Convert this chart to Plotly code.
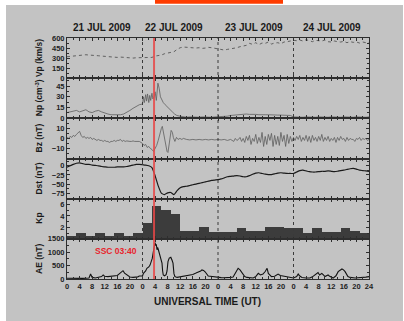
import plotly.graph_objects as go

# ---------------- data ----------------
DAY_LABELS = ["21 JUL 2009", "22 JUL 2009", "23 JUL 2009", "24 JUL 2009"]
DAY_LABEL_X = [11.1, 34.0, 59.3, 84.1]
DAY_BOUNDS = [24, 48, 72]
SSC_TIME = 27.667
SSC_TEXT = "SSC 03:40"

HOURS = list(range(97))

VP = [320, 325, 330, 335, 345, 350, 350, 345, 345, 340, 335, 330, 325, 315, 310, 305, 310, 315, 310, 305, 300, 300, 305, 305,
      305, 300, 305, 310, 330, 335, 345, 365, 375, 380, 395, 430, 455, 465, 460, 455, 460, 450, 455, 445, 450, 460, 455, 445,
      440, 425, 420, 430, 435, 445, 455, 470, 480, 490, 520, 505, 530, 500, 525, 520, 540, 510, 525, 530, 515, 540, 545, 560,
      565, 560, 570, 555, 575, 560, 545, 565, 560, 555, 570, 545, 540, 555, 545, 540, 550, 530, 545, 535, 540, 525, 540, 530,
      535]

NP_T = [0, 1, 2, 3, 4, 5, 6, 7, 8, 9, 10, 11, 12, 13, 14, 15, 16, 17, 18, 19, 20, 21, 22, 23,
        24, 24.3, 24.6, 25, 25.3, 25.6, 26, 26.3, 26.6, 27, 27.3, 27.7, 28, 28.4, 28.9, 29.3, 29.7, 30.1, 30.6,
        31.2, 32, 32.7, 33.5, 34.2, 34.9, 35.9, 37, 38, 39, 40, 41, 42, 43, 44, 45, 46, 47,
        48, 49, 50, 51, 52, 53, 54, 55, 56, 57, 58, 59, 60, 61, 62, 63, 64, 65, 66, 67, 68, 69, 70, 71,
        72, 73, 74, 75, 76, 77, 78, 79, 80, 81, 82, 83, 84, 85, 86, 87, 88, 89, 90, 91, 92, 93, 94, 95, 96]
NP_V = [8, 9, 10, 11, 9, 10, 12, 9, 8, 10, 11, 9, 7, 6, 5, 5, 4, 5, 6, 8, 11, 14, 17, 19,
        20, 30, 22, 33, 24, 34, 22, 32, 25, 35, 27, 30, 37, 25, 49, 42, 30, 26, 22,
        19, 15, 12, 9, 6, 4, 3, 2, 1.5, 2, 1.5, 2, 1.5, 2, 1.5, 2, 1.5, 2,
        2, 2, 2.5, 3, 4, 4.5, 5, 5, 5.5, 6, 5.5, 6, 5.5, 5, 5.5, 5, 5, 4.5, 5, 4.5, 4.5, 4, 4, 4,
        2, 1.5, 2, 1.5, 2, 1.5, 2, 1.5, 2, 1.5, 2, 1.5, 2, 1.5, 2, 1.5, 2, 1.5, 2, 1.5, 2, 1.5, 2, 1.5, 2]

BZ_T = [0, 0.5, 1, 1.5, 2, 2.5, 3, 3.5, 4, 4.5, 5, 5.5, 6, 6.5, 7, 7.5, 8, 8.5, 9, 9.5, 10, 10.5, 11, 11.5,
        12, 12.5, 13, 13.5, 14, 14.5, 15, 15.5, 16, 16.5, 17, 17.5, 18, 18.5, 19, 19.5, 20, 20.5, 21, 21.5,
        22, 22.5, 23, 23.5,
        24, 24.5, 25, 25.5, 26, 26.5, 27, 27.5, 28, 28.5, 29, 29.5, 30, 30.3, 30.7, 31, 31.4, 31.8, 32.1,
        32.5, 32.8, 33.1, 33.5, 33.8, 34.3, 34.8, 35.3, 35.9, 36.5, 37, 38, 39, 40, 41, 42, 43, 44, 45, 46, 47,
        48, 49, 50, 51, 52, 53, 53.5, 54, 54.5, 55, 55.5, 56, 56.5, 57, 57.5, 58, 58.5, 59, 59.5, 60, 60.5,
        61, 61.5, 62, 62.5, 63, 63.5, 64, 64.5, 65, 65.5, 66, 66.5, 67, 67.5, 68, 68.5, 69, 69.5, 70, 70.5,
        71, 71.5,
        72, 72.5, 73, 73.5, 74, 74.5, 75, 75.5, 76, 76.5, 77, 77.5, 78, 78.5, 79, 79.5, 80, 80.5, 81, 81.5,
        82, 82.5, 83, 83.5, 84, 84.5, 85, 85.5, 86, 86.5, 87, 87.5, 88, 88.5, 89, 89.5, 90, 90.5, 91, 91.5,
        92, 92.5, 93, 93.5, 94, 94.5, 95, 95.5, 96]
BZ_V = [1, 0, 2, 1, 3, 2, 4, 6, 7, 3, 1, 2, 0, 1, 0, 1, -1, 0, -1, -2, -1, -2, -2, -3,
        -2, -3, -3, -4, -3, -3, -2, -3, -2, -2, -1, -3, -2, -3, -2.5, -3, -3, -3, -2.5, -3,
        -3, -3.5, -3, -4,
        -5, -7, -6, -9, -8, -10, -11, -13, -10, -7, -2, 5, 10, 12, 6, 0, -8, -13, -14,
        -5, 5, 8, 6, 1, -3, 1, -1, 0, -1, 0, -1, -1.5, -1, -1.5, -1, -1.5, -1, -1.5, -1, -1.5,
        -1, -1.5, -1, -2, -1, -3, 0, -2, -1, 1, -3, 0, -4, 2, -2, 3, -6, 0, -3, 4, -5,
        1, -4, 6, -8, 2, -6, 4, -2, 5, -8, 3, -6, 2, -7, 6, -3, 3, -8, 4, -5,
        2, -3,
        1, -2, 2, -1, 3, -3, 1, -2, 3, -3, 2, -4, 3, -2, 1, -3, 2, -2, 4, -3,
        1, -2, 2, -3, 0, -2, 1, -4, 1, -2, 2, -1, 0, -3, 1, -2, 0, -1, -1, -3,
        0, -1, 1, -2, 0, -1, 0, -2, -1]

DST = [-4, 0, 4, 7, 8, 6, 4, 4, 2, 1, 0, -2, -3, -4, -4, -4, -3, -3, -3, -2, 0, 2, 4, 4,
       3, 2, 0, -5, -27, -55, -75, -79, -74, -73, -79, -68, -60, -57, -56, -54, -52, -50, -48, -46, -44, -42, -40, -39,
       -38, -36, -33, -30, -29, -28, -27, -28, -30, -30, -27, -23, -20, -19, -21, -23, -24, -24, -22, -20, -19, -20, -21, -21,
       -21, -17, -13, -12, -14, -16, -17, -17, -16, -15, -15, -14, -15, -16, -15, -13, -12, -10, -8, -7, -9, -12, -13, -14,
       -15]

KP_START = [0, 3, 6, 9, 12, 15, 18, 21, 24, 27, 30, 33, 36, 39, 42, 45,
            48, 51, 54, 57, 60, 63, 66, 69, 72, 75, 78, 81, 84, 87, 90, 93]
KP = [0.6, 1.0, 0.6, 1.0, 0.6, 1.0, 0.6, 1.0, 2.9, 5.7, 5.0, 4.3, 1.5, 1.5, 2.2, 1.3,
      1.3, 1.3, 1.9, 1.5, 1.5, 2.2, 2.2, 1.9, 1.9, 1.0, 1.9, 1.3, 1.3, 1.9, 1.5, 1.0]

AE_T = [0, 1, 2, 3, 4, 5, 6, 7, 7.5, 8, 9, 10, 11, 11.5, 12, 13, 14, 15, 16, 16.5, 17.2, 17.8, 18.3, 19, 20, 21, 22,
        22.5, 23, 23.5,
        24, 24.3, 25, 25.4, 26, 26.4, 26.8, 27.1, 27.5, 27.7, 28, 28.2, 28.4, 28.6, 28.8, 29, 29.3, 29.6, 30, 30.2,
        30.4, 30.6, 31, 31.5, 31.8, 32.1, 32.5, 33, 33.4, 33.7, 34, 34.3, 35, 36, 37, 38, 39, 40, 41, 41.5, 42,
        42.5, 42.9, 43.4, 43.9, 44.5, 44.9, 45.5, 46, 47, 48,
        49, 50, 50.9, 52, 52.8, 53.5, 54, 54.4, 55, 55.5, 56, 56.5, 57.2, 58, 59.2, 60, 60.8, 61.5, 62.3, 63, 63.6,
        64, 64.5, 65, 66, 66.5, 67.1, 67.8, 68.7, 69.5, 70.9, 71.5,
        72, 73, 73.5, 74, 74.7, 76, 77.2, 78, 78.8, 79.3, 79.8, 80.3, 81, 81.5, 82, 83, 83.5, 84.6, 85.5, 86.2,
        86.8, 87.4, 87.9, 88.4, 89.3, 90, 91.6, 92.5, 93.5, 94.2, 95, 96]
AE_V = [30, 25, 35, 20, 30, 25, 30, 40, 185, 60, 40, 60, 90, 150, 100, 90, 110, 120, 130, 180, 240, 310, 220, 150, 75,
        60, 55, 80, 110, 100,
        110, 210, 300, 400, 450, 520, 650, 770, 1050, 1210, 1360, 1250, 1300, 1090, 1180, 1110, 1000, 900, 700, 590,
        300, 150, 120, 160, 300, 650, 780, 810, 700, 590, 200, 90, 60, 80, 90, 110, 130, 170, 220, 240, 280,
        300, 340, 320, 270, 180, 110, 100, 90, 80, 65,
        50, 45, 40, 60, 75, 200, 330, 400, 340, 250, 150, 90, 60, 50, 40, 90, 210, 150, 185, 280, 400,
        210, 150, 90, 100, 140, 185, 130, 110, 90, 75, 60,
        40, 90, 185, 110, 55, 40, 35, 80, 150, 200, 240, 150, 210, 150, 90, 150, 100, 35, 120, 275,
        330, 375, 340, 275, 90, 60, 35, 40, 60, 65, 70, 90]

HOUR_TICKS = list(range(0, 97, 4))
HOUR_TICKTEXT = ["0", "4", "8", "12", "16", "20"] * 4 + ["24"]

PANELS = [
    dict(title="<b>Vp (km/s)</b>", range=[0, 600], ticks=[0, 150, 300, 450, 600], minor=75),
    dict(title="<b>Np (cm<sup>-3</sup>)</b>", range=[0, 56], ticks=[0, 15, 30, 45], minor=7.5),
    dict(title="<b>Bz (nT)</b>", range=[-20, 20], ticks=[-10, 0, 10], minor=5),
    dict(title="<b>Dst (nT)</b>", range=[-90, 20], ticks=[-75, -50, -25, 0], minor=12.5),
    dict(title="<b>Kp</b>", range=[0, 7], ticks=[2, 4, 6], minor=1),
    dict(title="<b>AE (nT)</b>", range=[0, 1500], ticks=[0, 500, 1000, 1500], minor=250),
]

# ---------------- figure ----------------
W, H = 404, 321
ML, MR, MT, MB = 67, 35, 38, 42
FONT = "Liberation Sans, Arial, sans-serif"
BG = "#c3c3c3"
AX = "#2e2e2e"

fig = go.Figure()

fig.add_trace(go.Scatter(x=HOURS, y=VP, mode="lines", line=dict(color="#555555", width=0.9, dash="dot"),
                         xaxis="x", yaxis="y"))
fig.add_trace(go.Scatter(x=NP_T, y=NP_V, mode="lines", line=dict(color="#5e5e5e", width=0.8),
                         xaxis="x2", yaxis="y2"))
fig.add_trace(go.Scatter(x=BZ_T, y=BZ_V, mode="lines", line=dict(color="#5e5e5e", width=0.8),
                         xaxis="x3", yaxis="y3"))
fig.add_trace(go.Scatter(x=HOURS, y=DST, mode="lines", line=dict(color="#1a1a1a", width=1.2, shape="spline", smoothing=0.4),
                         xaxis="x4", yaxis="y4"))
fig.add_trace(go.Bar(x=[s + 1.5 for s in KP_START], y=KP, width=3, marker=dict(color="#3c3c3c", line=dict(width=0)),
                     xaxis="x5", yaxis="y5"))
fig.add_trace(go.Scatter(x=AE_T, y=AE_V, mode="lines", line=dict(color="#111111", width=1.1),
                         xaxis="x6", yaxis="y6"))

n = len(PANELS)
layout = dict(
    width=W, height=H,
    margin=dict(l=ML, r=MR, t=MT, b=MB, pad=0),
    paper_bgcolor="white", plot_bgcolor=BG,
    showlegend=False, bargap=0,
    font=dict(family=FONT, color="#222222"),
)
tickfont = dict(family=FONT, size=7.5, color="#222222", weight="bold")
for i, p in enumerate(PANELS):
    k = "" if i == 0 else str(i + 1)
    top = 1 - i / n
    bot = 1 - (i + 1) / n
    layout["xaxis" + k] = dict(
        domain=[0, 1], anchor="y" + k, range=[0, 96],
        tickmode="array", tickvals=HOUR_TICKS, ticktext=HOUR_TICKTEXT,
        showticklabels=(i == n - 1), ticks="inside", ticklen=3, tickwidth=0.8, tickcolor=AX,
        minor=dict(dtick=2, tick0=0, ticks="inside", ticklen=2, tickwidth=0.6, tickcolor=AX, showgrid=False),
        showline=True, linecolor=AX, linewidth=1, mirror="ticks",
        showgrid=False, zeroline=False, tickfont=tickfont,
        **({} if i == 0 else {"matches": "x"}),
    )
    layout["yaxis" + k] = dict(
        domain=[bot, top], anchor="x" + k, range=p["range"],
        tickmode="array", tickvals=p["ticks"],
        ticks="inside", ticklen=3, tickwidth=0.8, tickcolor=AX,
        minor=dict(dtick=p["minor"], ticks="inside", ticklen=2, tickwidth=0.6, tickcolor=AX, showgrid=False),
        showline=True, linecolor=AX, linewidth=1, mirror="ticks",
        showgrid=False, zeroline=False, tickfont=tickfont,
    )
fig.update_layout(**layout)

pw = W - ML - MR
ph = H - MT - MB


def px_x(px):
    return (px - ML) / pw


def px_y(py):
    return (H - MB - py) / ph


shapes = []
# gray page background with white strip on top/left
shapes.append(dict(type="rect", xref="paper", yref="paper", x0=px_x(6), x1=px_x(403), y0=px_y(321), y1=px_y(5),
                   fillcolor=BG, line=dict(width=0), layer="below"))
# orange header bar
shapes.append(dict(type="rect", xref="paper", yref="paper", x0=px_x(155), x1=px_x(283), y0=px_y(3.8), y1=px_y(0),
                   fillcolor="#ff3c00", line=dict(width=0), layer="below"))
# day separators
for d in DAY_BOUNDS:
    shapes.append(dict(type="line", xref="x", yref="paper", x0=d, x1=d, y0=0, y1=1,
                       line=dict(color="#3a3a3a", width=1, dash="dot"), layer="above"))
# SSC line
shapes.append(dict(type="line", xref="x", yref="paper", x0=SSC_TIME, x1=SSC_TIME, y0=0, y1=1,
                   line=dict(color="rgba(232,70,70,0.85)", width=2), layer="above"))
fig.update_layout(shapes=shapes)

ann = []
for lbl, xx in zip(DAY_LABELS, DAY_LABEL_X):
    ann.append(dict(text="<b>" + lbl + "</b>", x=xx, xref="x", y=px_y(27.5), yref="paper",
                    showarrow=False, xanchor="center", yanchor="middle",
                    font=dict(family=FONT, size=10, color="#1a1a1a")))
for i, p in enumerate(PANELS):
    yc = 1 - (i + 0.5) / n
    ann.append(dict(text=p["title"], x=px_x(39), xref="paper", y=yc, yref="paper", textangle=-90,
                    showarrow=False, xanchor="center", yanchor="middle",
                    font=dict(family=FONT, size=8.5, color="#1a1a1a")))
ann.append(dict(text="<b>UNIVERSAL TIME (UT)</b>", x=px_x(207), xref="paper", y=px_y(301), yref="paper",
                showarrow=False, xanchor="center", yanchor="middle",
                font=dict(family=FONT, size=10, color="#1a1a1a")))
ann.append(dict(text="<b>" + SSC_TEXT + "</b>", x=22.9, xref="x6", y=1050, yref="y6",
                showarrow=False, xanchor="right", yanchor="middle",
                font=dict(family=FONT, size=8.5, color="#e8242c")))
fig.update_layout(annotations=ann)

fig.write_html("out.html")
